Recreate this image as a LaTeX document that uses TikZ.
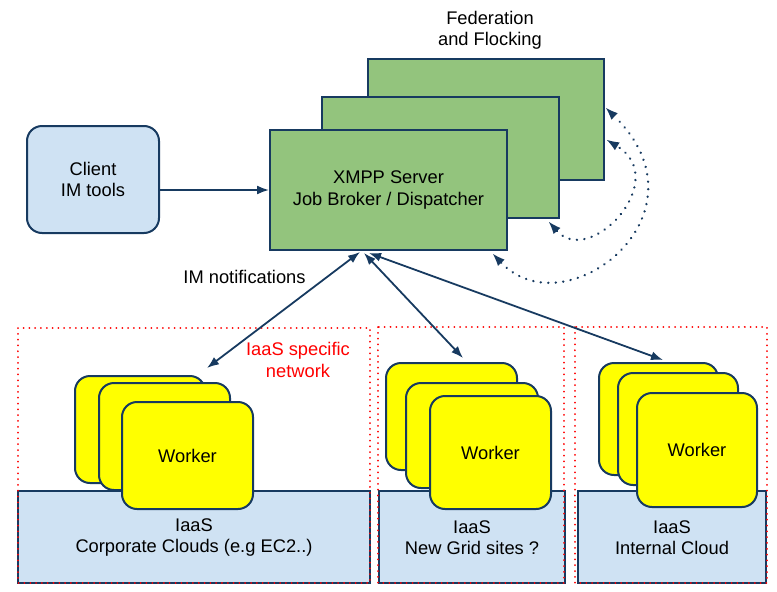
\documentclass[tikz,border=0pt]{standalone}
\usepackage{fontspec}
\setmainfont{Liberation Sans}
\usetikzlibrary{arrows.meta}
\definecolor{dblue}{RGB}{23,58,96}
\definecolor{sgreen}{RGB}{147,196,125}
\definecolor{lblue}{RGB}{207,226,243}
\definecolor{wyellow}{RGB}{255,255,0}
\definecolor{nred}{RGB}{255,0,0}
\tikzset{
  txt/.style={font=\fontsize{18.3}{21.5}\selectfont, align=center, text=black},
  serverbox/.style={draw=dblue, line width=2pt, fill=sgreen, rectangle, inner sep=0pt},
  clientbox/.style={draw=dblue, line width=2pt, fill=lblue, rounded corners=15pt, inner sep=0pt},
  workerbox/.style={draw=dblue, line width=2pt, fill=wyellow, rounded corners=15pt, inner sep=0pt},
  iaasbox/.style={draw=dblue, line width=2pt, fill=lblue, rectangle, inner sep=0pt},
  netregion/.style={draw=nred, line width=2pt, dash pattern=on 0.01pt off 5.8pt, line cap=round},
  link/.style={draw=dblue, line width=1.8pt, {Latex[length=12pt,width=9pt]}-{Latex[length=12pt,width=9pt]}},
  onelink/.style={draw=dblue, line width=1.8pt, -{Latex[length=12pt,width=9pt]}},
  flock/.style={draw=dblue, line width=2.6pt, dash pattern=on 0.01pt off 7.5pt, line cap=round, {Latex[length=12pt,width=9pt,line width=0pt]}-{Latex[length=12pt,width=9pt,line width=0pt]}},
}
\begin{document}
\begin{tikzpicture}[x=1pt,y=-1pt]
\useasboundingbox (0,0) rectangle (777,592);

% Server stack
\node[serverbox, minimum width=236pt, minimum height=121pt] (srv3) at (486,119.5) {};
\node[serverbox, minimum width=237pt, minimum height=121pt] (srv2) at (440.5,157.5) {};
\node[serverbox, minimum width=237pt, minimum height=120pt, txt] (srv1) at (388.5,190) {XMPP Server\\Job Broker / Dispatcher};
\node[txt] (fed) at (490,30.5) {Federation\\and Flocking};

% Client
\node[clientbox, minimum width=132pt, minimum height=107pt, txt] (client) at (93,179.5) {Client\\IM tools};
\draw[onelink] ([yshift=-10.5pt]client.east) -- (srv1.west);

% IaaS boxes
\node[iaasbox, minimum width=352pt, minimum height=92pt] (iaas1) at (194,537) {};
\node[iaasbox, minimum width=186pt, minimum height=92pt] (iaas2) at (472,537) {};
\node[iaasbox, minimum width=188pt, minimum height=92pt] (iaas3) at (672,537) {};
\node[txt] (iaas1t) at (194,537.5) {IaaS\\Corporate Clouds (e.g EC2..)};
\node[txt] (iaas2t) at (472,537.5) {IaaS\\New Grid sites ?};
\node[txt] (iaas3t) at (672,537.5) {IaaS\\Internal Cloud};

% network regions
\draw[netregion] (18,328) rectangle (370,583);
\draw[netregion] (378,327) rectangle (564,583);
\draw[netregion] (575,327) rectangle (767,583);
\node[txt, text=nred] (netlab) at (298,360) {IaaS specific\\network};

% Workers region 1
\node[workerbox, minimum width=130pt, minimum height=107pt] (w1a) at (140,429.5) {};
\node[workerbox, minimum width=131pt, minimum height=107pt] (w1b) at (164.5,436.5) {};
\node[workerbox, minimum width=131pt, minimum height=107pt, txt] (w1c) at (187.5,455.5) {Worker};
% Workers region 2
\node[workerbox, minimum width=131pt, minimum height=107pt] (w2a) at (451.5,416.5) {};
\node[workerbox, minimum width=132pt, minimum height=105pt] (w2b) at (472,435.5) {};
\node[workerbox, minimum width=121pt, minimum height=113pt, txt] (w2c) at (490.5,452.5) {Worker};
% Workers region 3
\node[workerbox, minimum width=119pt, minimum height=112pt] (w3a) at (658.5,419) {};
\node[workerbox, minimum width=120pt, minimum height=112pt] (w3b) at (678,429) {};
\node[workerbox, minimum width=120pt, minimum height=114pt, txt] (w3c) at (697,450) {Worker};

% links server <-> workers
\coordinate (s1) at (360,252);
\coordinate (s2) at (364,253);
\coordinate (s3) at (369,253);
\coordinate (t1) at (207,368);
\coordinate (t2) at (463,358);
\coordinate (t3) at (663,360);
\draw[link] (s1) -- (t1);
\draw[link] (s2) -- (t2);
\draw[link] (s3) -- (t3);
\node[txt] (imn) at (244.5,277) {IM notifications};

% federation dotted links
\coordinate (f1a) at (493,254);
\coordinate (f1b) at (606,108);
\coordinate (f2a) at (549,222);
\coordinate (f2b) at (607,140);
\draw[flock] (f1a) .. controls (565,330) and (715,215) .. (f1b);
\draw[flock] (f2a) .. controls (590,268) and (672,180) .. (f2b);
\end{tikzpicture}
\end{document}
